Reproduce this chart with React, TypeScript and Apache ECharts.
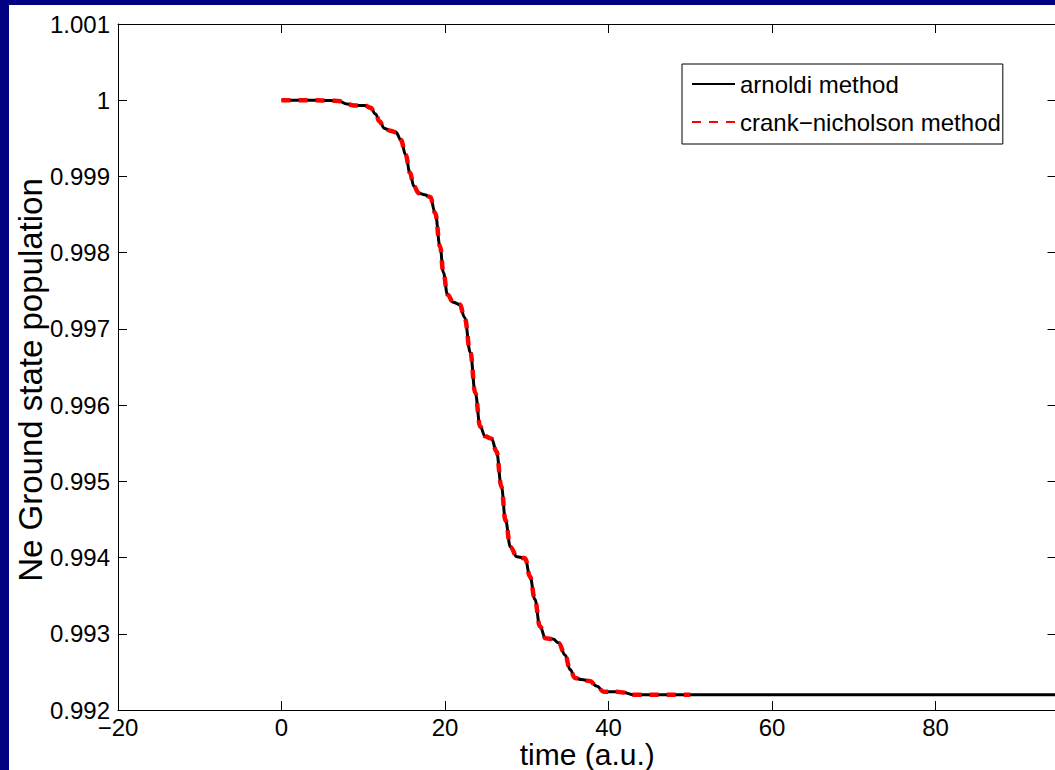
import React, { useEffect, useRef } from "react";
import * as echarts from "echarts";

const timeAu = [
  0, 2, 4, 6, 7, 8, 9, 10.2, 10.9, 11.5, 12.0, 12.6, 13.3, 14.0, 14.6, 15.2, 15.7, 16.2, 16.8,
  17.5, 18.2, 18.8, 19.4, 19.8, 20.3, 21.0, 21.8, 22.4, 23.1, 23.7, 24.3, 24.9, 25.7, 26.3,
  26.9, 27.4, 28.0, 28.8, 29.8, 30.4, 31.0, 31.6, 32.3, 33.2, 33.9, 34.7, 35.3, 35.9, 36.7,
  37.7, 38.6, 39.4, 41.0, 41.8, 43.1, 45, 50, 60, 70, 80, 94.8,
];

const populationArnoldi = [
  1.0, 1.0, 1.0, 0.999995, 0.99999, 0.99995, 0.99993, 0.99993, 0.9999, 0.99982, 0.99972,
  0.99963, 0.9996, 0.99958, 0.99948, 0.99928, 0.99905, 0.99887, 0.99878, 0.99876, 0.99873,
  0.99852, 0.99808, 0.99774, 0.99745, 0.99735, 0.99732, 0.99715, 0.99669, 0.99616, 0.99572,
  0.99559, 0.99556, 0.99539, 0.99493, 0.99449, 0.99414, 0.99401, 0.99399, 0.99375, 0.99345,
  0.9931, 0.99294, 0.99293, 0.99288, 0.99272, 0.99253, 0.99242, 0.9924, 0.99238, 0.99231,
  0.99224, 0.99224, 0.99223, 0.9922, 0.9922, 0.9922, 0.9922, 0.9922, 0.9922, 0.9922,
];

// crank-nicholson run stops at t = 50 a.u.
const cnEndTime = 50;
const populationCrankNicholson = populationArnoldi.slice(0, timeAu.indexOf(cnEndTime) + 1);

const xTicks = { min: -20, max: 94.8, interval: 20 };
const yTicks = { min: 0.992, max: 1.001, interval: 0.001 };

const seriesNames = ["arnoldi method", "crank\u2212nicholson method"];

const FONT = "'Liberation Sans', Arial, Helvetica, sans-serif";

export default function App() {
  const ref = useRef<HTMLDivElement>(null);

  useEffect(() => {
    if (!ref.current) return;
    const chart = echarts.init(ref.current, undefined, { renderer: "svg" });

    const arnoldi = timeAu.map((t, i) => [t, populationArnoldi[i]]);
    const cn = populationCrankNicholson.map((p, i) => [timeAu[i], p]);

    const axisLine = { show: true, onZero: false, lineStyle: { color: "#000", width: 1 } };
    const tick = { show: true, inside: true, length: 9, lineStyle: { color: "#000", width: 1 } };

    chart.setOption({
      animation: false,
      backgroundColor: "#ffffff",
      textStyle: { fontFamily: FONT },
      grid: {
        left: 109,
        top: 19,
        right: 2.5,
        bottom: 60,
        containLabel: false,
        outerBoundsMode: "none",
      },
      legend: {
        show: true,
        orient: "vertical",
        left: 673,
        top: 59,
        data: seriesNames,
        itemWidth: 43,
        itemHeight: 24,
        itemGap: 14,
        padding: [8, 2, 10, 9],
        borderColor: "#000",
        borderWidth: 1,
        backgroundColor: "#fff",
        itemStyle: { opacity: 0 },
        textStyle: { fontSize: 24, color: "#000", fontFamily: FONT },
        selectedMode: false,
      },
      xAxis: [
        {
          type: "value",
          min: xTicks.min,
          max: xTicks.max,
          interval: xTicks.interval,
          position: "bottom",
          name: "time (a.u.)",
          nameLocation: "middle",
          nameGap: 29,
          nameMoveOverlap: false,
          nameTextStyle: { fontSize: 30, color: "#000", fontFamily: FONT },
          axisLine,
          axisTick: tick,
          splitLine: { show: false },
          axisLabel: {
            fontSize: 24,
            color: "#000",
            margin: 5,
            showMaxLabel: false,
            fontFamily: FONT,
            formatter: (v: number) =>
              Math.abs(v % 20) < 1e-6 ? String(Math.round(v)).replace("-", "\u2212") : "",
          },
        },
        {
          type: "value",
          min: xTicks.min,
          max: xTicks.max,
          interval: xTicks.interval,
          position: "top",
          axisLine,
          axisTick: tick,
          axisLabel: { show: false },
          splitLine: { show: false },
        },
      ],
      yAxis: [
        {
          type: "value",
          min: yTicks.min,
          max: yTicks.max,
          interval: yTicks.interval,
          position: "left",
          name: "Ne Ground state population",
          nameLocation: "middle",
          nameGap: 71,
          nameMoveOverlap: false,
          nameTextStyle: {
            fontSize: 33,
            color: "#000",
            fontFamily: FONT,
            padding: [0, 26, 0, 0],
          },
          axisLine,
          axisTick: tick,
          splitLine: { show: false },
          axisLabel: {
            fontSize: 24,
            color: "#000",
            margin: 8,
            fontFamily: FONT,
            formatter: (v: number) => String(Number(v.toFixed(3))),
          },
        },
        {
          type: "value",
          min: yTicks.min,
          max: yTicks.max,
          interval: yTicks.interval,
          position: "right",
          axisLine,
          axisTick: tick,
          axisLabel: { show: false },
          splitLine: { show: false },
        },
      ],
      series: [
        {
          name: seriesNames[0],
          type: "line",
          data: arnoldi,
          showSymbol: false,
          symbol: "none",
          smooth: 0.4,
          smoothMonotone: "x",
          lineStyle: { color: "#000", width: 3 },
          itemStyle: { color: "#000" },
          z: 2,
        },
        {
          name: seriesNames[1],
          type: "line",
          data: cn,
          showSymbol: false,
          symbol: "none",
          smooth: 0.4,
          smoothMonotone: "x",
          lineStyle: { color: "#ff0000", width: 4.5, type: [9, 8] },
          itemStyle: { color: "#ff0000" },
          z: 3,
        },
      ],
    });

    return () => chart.dispose();
  }, []);

  return (
    <div
      style={{
        position: "fixed",
        left: 0,
        top: 0,
        width: 1055,
        height: 770,
        background: "#000080",
        overflow: "hidden",
      }}
    >
      <div
        ref={ref}
        style={{ position: "absolute", left: 9, top: 5, width: 1050, height: 765 }}
      />
    </div>
  );
}
